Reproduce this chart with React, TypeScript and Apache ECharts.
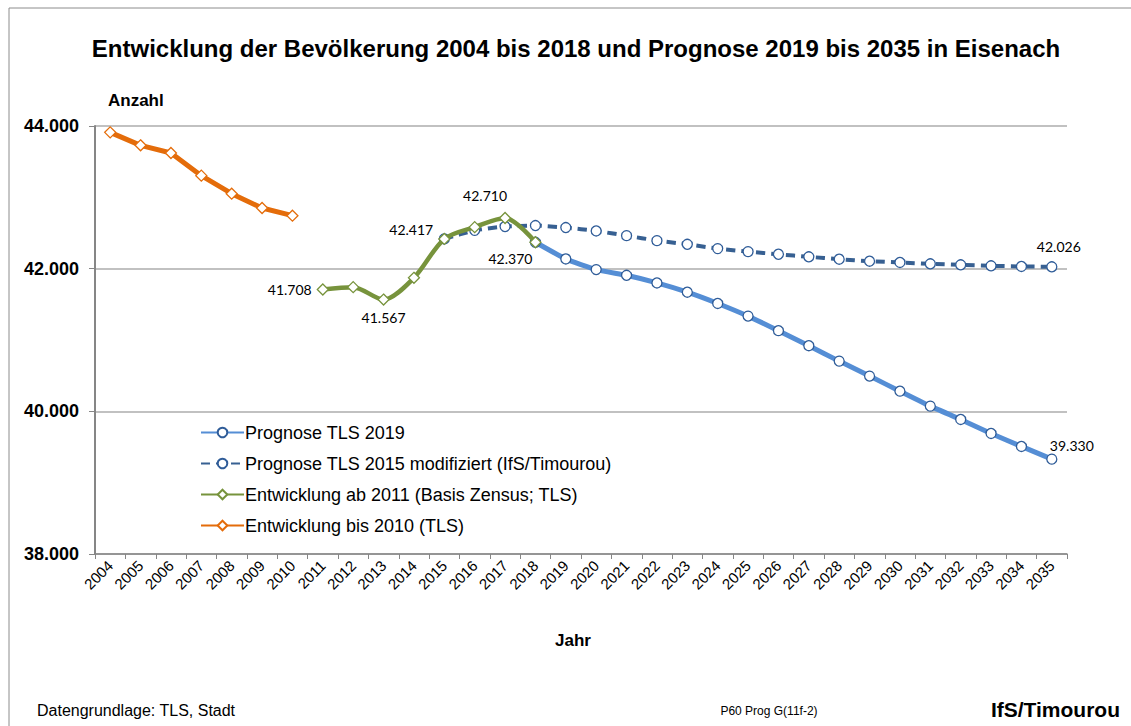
import React, { useEffect, useRef } from "react";
import * as echarts from "echarts";

const years = [
  "2004", "2005", "2006", "2007", "2008", "2009", "2010", "2011",
  "2012", "2013", "2014", "2015", "2016", "2017", "2018", "2019",
  "2020", "2021", "2022", "2023", "2024", "2025", "2026", "2027",
  "2028", "2029", "2030", "2031", "2032", "2033", "2034", "2035",
];

// Entwicklung bis 2010 (TLS): 2004–2010
const entwicklungBis2010 = [43911, 43729, 43621, 43304, 43051, 42850, 42743];
// Entwicklung ab 2011 (Basis Zensus; TLS): 2011–2018
const entwicklungAb2011 = [41708, 41741, 41567, 41872, 42417, 42582, 42710, 42370];
// Prognose TLS 2019: 2018–2035
const prognoseTLS2019 = [
  42370, 42136, 41987, 41907, 41800, 41670, 41512, 41335, 41131,
  40920, 40704, 40494, 40283, 40073, 39886, 39690, 39508, 39330,
];
// Prognose TLS 2015 modifiziert (IfS/Timourou): 2015–2035
const prognoseTLS2015mod = [
  42417, 42537, 42591, 42604, 42576, 42529, 42463, 42393, 42342, 42281, 42239,
  42202, 42166, 42133, 42105, 42087, 42068, 42054, 42040, 42031, 42026,
];

const yTicks = [38000, 40000, 42000, 44000];

const seriesNames = [
  "Prognose TLS 2019",
  "Prognose TLS 2015 modifiziert (IfS/Timourou)",
  "Entwicklung ab 2011 (Basis Zensus; TLS)",
  "Entwicklung bis 2010 (TLS)",
];

const fmt = (v: number) => {
  const n = Math.round(v);
  const th = Math.floor(n / 1000);
  const rest = String(n % 1000).padStart(3, "0");
  return th > 0 ? `${th}.${rest}` : String(n);
};

function pad(values: number[], startYear: string) {
  const start = years.indexOf(startYear);
  return years.map((_, i) =>
    i >= start && i < start + values.length ? values[i - start] : null
  );
}

// label placements (styling only)
const labelCfg: Record<string, Record<string, any>> = {
  green: {
    "2011": { position: "left", offset: [0, 0] },
    "2013": { position: "bottom", offset: [0, 0] },
    "2015": { position: "left", offset: [0, -9] },
    "2017": { position: "top", offset: [-20, -4] },
    "2018": { position: "bottom", offset: [-25, -2] },
  },
  blue: { "2035": { position: "top", offset: [20, 4] } },
  dashed: { "2035": { position: "top", offset: [7, -3] } },
};

const labelFont = {
  fontFamily: "Lato, 'Liberation Sans', sans-serif",
  fontSize: 14,
  color: "#000",
};

function withLabels(data: (number | null)[], cfg: Record<string, any>) {
  return data.map((v, i) => {
    const c = cfg[years[i]];
    if (v == null || !c) return v;
    return {
      value: v,
      label: { show: true, formatter: (p: any) => fmt(p.value), ...labelFont, ...c },
    };
  });
}

export default function App() {
  const ref = useRef<HTMLDivElement>(null);
  useEffect(() => {
    if (!ref.current) return;
    const chart = echarts.init(ref.current, undefined, { renderer: "svg" });
    const arial = "Arial, 'Liberation Sans', sans-serif";
    chart.setOption({
      animation: false,
      backgroundColor: "#fff",
      grid: { left: 95, right: 64, top: 126, bottom: 172 },
      legend: {
        orient: "vertical",
        left: 195,
        top: 417,
        itemWidth: 43,
        itemHeight: 12,
        itemGap: 10,
        data: seriesNames,
        textStyle: { fontFamily: arial, fontSize: 18, color: "#000", lineHeight: 21, padding: [0, 0, 0, -4] },
      },
      xAxis: {
        type: "category",
        data: years,
        boundaryGap: true,
        axisLine: { lineStyle: { color: "#868686", width: 1.5 } },
        axisTick: { show: true, lineStyle: { color: "#868686" }, length: 5 },
        axisLabel: {
          rotate: 45,
          interval: 0,
          fontFamily: arial,
          fontSize: 15,
          color: "#000",
          margin: 9,
        },
      },
      yAxis: {
        type: "value",
        min: 38000,
        max: 44000,
        interval: 2000,
        axisLine: { show: true, lineStyle: { color: "#868686", width: 2 } },
        axisTick: { show: true, length: 6, lineStyle: { color: "#868686" } },
        splitLine: { lineStyle: { color: "#ADADAD", width: 1.5 } },
        axisLabel: {
          formatter: (v: number) => (yTicks.includes(v) ? fmt(v) : ""),
          fontFamily: arial,
          fontSize: 18,
          fontWeight: "bold",
          color: "#000",
          margin: 16,
        },
      },
      series: [
        {
          name: seriesNames[0],
          type: "line",
          z: 2,
          data: withLabels(pad(prognoseTLS2019, "2018"), labelCfg.blue),
          symbol: "circle",
          symbolSize: 10,
          smooth: 0.15,
          lineStyle: { color: "#558ED5", width: 5 },
          itemStyle: { color: "#fff", borderColor: "#2F5C98", borderWidth: 1.3 },
        },
        {
          name: seriesNames[1],
          type: "line",
          z: 3,
          data: withLabels(pad(prognoseTLS2015mod, "2015"), labelCfg.dashed),
          symbol: "circle",
          symbolSize: 10,
          smooth: 0.15,
          lineStyle: { color: "#376092", width: 4, type: [9, 6] },
          itemStyle: { color: "#fff", borderColor: "#2F5C98", borderWidth: 1.3 },
        },
        {
          name: seriesNames[2],
          type: "line",
          z: 4,
          data: withLabels(pad(entwicklungAb2011, "2011"), labelCfg.green),
          symbol: "diamond",
          symbolSize: 11,
          smooth: 0.3,
          lineStyle: { color: "#77933C", width: 4.5 },
          itemStyle: { color: "#fff", borderColor: "#77933C", borderWidth: 1.3 },
        },
        {
          name: seriesNames[3],
          type: "line",
          z: 4,
          data: pad(entwicklungBis2010, "2004"),
          symbol: "diamond",
          symbolSize: 11,
          lineStyle: { color: "#E46C0A", width: 5 },
          itemStyle: { color: "#fff", borderColor: "#E46C0A", borderWidth: 1.3 },
        },
      ],
      graphic: [
        { type: "line", shape: { x1: 9, y1: 8, x2: 1131, y2: 8 }, style: { stroke: "#8C8C8C", lineWidth: 1 } },
        { type: "line", shape: { x1: 9, y1: 8, x2: 9, y2: 726 }, style: { stroke: "#8C8C8C", lineWidth: 1 } },
        {
          type: "text",
          x: 576,
          y: 48,
          style: {
            text: "Entwicklung der Bevölkerung 2004 bis 2018 und Prognose 2019 bis 2035 in Eisenach",
            font: `bold 24px ${arial}`,
            fill: "#000",
            textAlign: "center",
            textVerticalAlign: "middle",
          },
        },
        {
          type: "text",
          x: 108,
          y: 100,
          style: { text: "Anzahl", font: `bold 17px ${arial}`, fill: "#000", textVerticalAlign: "middle" },
        },
        {
          type: "text",
          x: 573,
          y: 640,
          style: { text: "Jahr", font: `bold 17px ${arial}`, fill: "#000", textAlign: "center", textVerticalAlign: "middle" },
        },
        {
          type: "text",
          x: 37,
          y: 710,
          style: { text: "Datengrundlage: TLS, Stadt", font: `16px ${arial}`, fill: "#000", textVerticalAlign: "middle" },
        },
        {
          type: "text",
          x: 769,
          y: 711,
          style: { text: "P60 Prog G(11f-2)", font: `12px ${arial}`, fill: "#000", textAlign: "center", textVerticalAlign: "middle" },
        },
        {
          type: "text",
          x: 1120,
          y: 709,
          style: { text: "IfS/Timourou", font: `bold 21px ${arial}`, fill: "#000", textAlign: "right", textVerticalAlign: "middle" },
        },
      ],
    });
    return () => chart.dispose();
  }, []);
  return (
    <div style={{ position: "fixed", left: 0, top: 0, width: 1131, height: 726 }}>
      <div ref={ref} style={{ width: 1131, height: 726 }} />
    </div>
  );
}
